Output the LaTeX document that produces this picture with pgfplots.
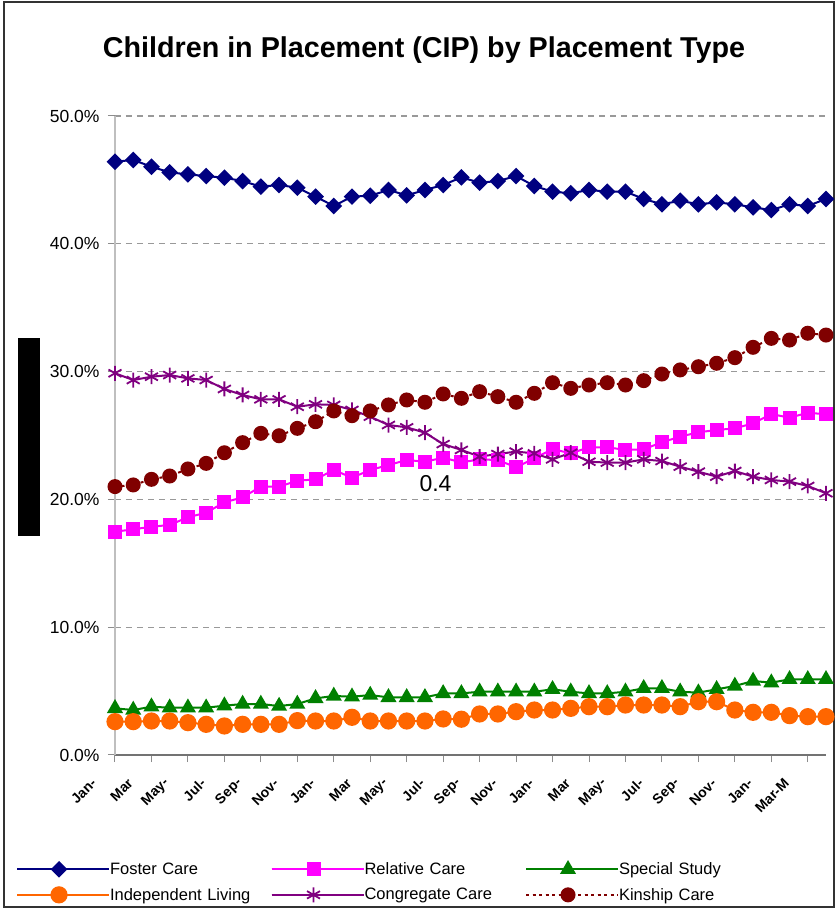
\documentclass[border=0pt]{standalone}
\usepackage{fontspec}
\setmainfont{Liberation Sans}
\usepackage{pgfplots}
\usepackage{pgfplotstable}
\pgfplotsset{compat=1.18}

\definecolor{cfoster}{HTML}{000080}
\definecolor{crelative}{HTML}{FF00FF}
\definecolor{cspecial}{HTML}{008000}
\definecolor{cindep}{HTML}{FF6600}
\definecolor{ccongr}{HTML}{800080}
\definecolor{ckin}{HTML}{800000}

% share of children in placement, % per month (40 months)
\pgfplotstableread{
i  foster relative special indep congr kin
0  46.42  17.47  3.65  2.61  29.87  21.00
1  46.56  17.66  3.52  2.61  29.34  21.13
2  46.03  17.86  3.78  2.66  29.60  21.57
3  45.59  18.00  3.70  2.66  29.73  21.83
4  45.43  18.60  3.70  2.53  29.47  22.38
5  45.30  18.96  3.70  2.40  29.34  22.82
6  45.17  19.77  3.86  2.27  28.64  23.65
7  44.91  20.16  3.99  2.40  28.17  24.44
8  44.47  21.00  3.99  2.40  27.83  25.17
9  44.60  21.00  3.83  2.40  27.83  24.98
10 44.39  21.46  3.99  2.69  27.25  25.56
11 43.69  21.57  4.43  2.66  27.44  26.08
12 42.96  22.30  4.62  2.66  27.39  26.92
13 43.69  21.70  4.56  2.95  27.00  26.55
14 43.76  22.30  4.69  2.66  26.47  26.92
15 44.21  22.69  4.51  2.66  25.82  27.39
16 43.79  23.08  4.51  2.66  25.64  27.78
17 44.21  22.95  4.51  2.66  25.22  27.60
18 44.60  23.26  4.82  2.82  24.33  28.25
19 45.20  22.90  4.82  2.80  23.87  27.91
20 44.78  23.13  4.95  3.21  23.35  28.43
21 44.91  23.08  4.95  3.21  23.55  28.04
22 45.30  22.51  4.95  3.39  23.74  27.60
23 44.52  23.21  4.95  3.52  23.60  28.30
24 44.08  23.94  5.14  3.52  23.13  29.13
25 43.95  23.60  4.95  3.65  23.65  28.69
26 44.21  24.08  4.82  3.78  22.95  28.95
27 44.08  24.08  4.82  3.78  22.88  29.13
28 44.08  23.87  4.95  3.91  22.88  28.95
29 43.51  23.92  5.22  3.91  23.13  29.29
30 43.09  24.47  5.22  3.91  23.00  29.81
31 43.37  24.91  4.95  3.78  22.56  30.13
32 43.09  25.25  4.88  4.17  22.17  30.38
33 43.24  25.43  5.14  4.17  21.78  30.65
34 43.09  25.56  5.40  3.52  22.22  31.09
35 42.85  25.95  5.79  3.34  21.78  31.90
36 42.64  26.68  5.66  3.34  21.52  32.60
37 43.09  26.39  5.92  3.08  21.39  32.47
38 42.96  26.78  5.92  3.00  21.05  33.00
39 43.51  26.66  5.92  3.00  20.48  32.86
}\cip

\begin{document}
\begin{tikzpicture}
\useasboundingbox (0,0) rectangle (838pt,910pt);
\draw[line width=1.5pt, black!80] (4pt,3pt) rectangle (834pt,908pt);

\node[anchor=base, font=\fontsize{28.7}{34}\selectfont\bfseries] at (424pt,852pt)
  {Children in Placement (CIP) by Placement Type};

% black bar on the left
\fill[black] (18pt,374pt) rectangle (40pt,572pt);

\begin{axis}[
  at={(115pt,155pt)}, anchor=south west,
  scale only axis, width=711pt, height=639pt,
  xmin=0, xmax=39, ymin=0, ymax=50,
  axis x line*=bottom, axis y line*=left,
  x axis line style={draw=black!55, line width=1.3pt},
  y axis line style={draw=black!25, line width=1.3pt},
  tick align=outside, major tick length=7pt,
  tick style={draw=black!45, line width=1pt},
  xtick={0,2,...,38},
  xticklabels={Jan-,Mar,May-,Jul-,Sep-,Nov-,Jan-,Mar,May-,Jul-,Sep-,Nov-,Jan-,Mar,May-,Jul-,Sep-,Nov-,Jan-,Mar-M},
  x tick label style={font=\fontsize{14}{16}\selectfont\bfseries, inner sep=0pt,
    xshift=-21pt, yshift=-19pt, rotate=45, anchor=east},
  ytick={0,10,20,30,40,50},
  yticklabels={0.0\%,10.0\%,20.0\%,30.0\%,40.0\%,50.0\%},
  y tick label style={font=\fontsize{17.5}{20}\selectfont, xshift=-5pt},
  ymajorgrids,
  major grid style={draw=black!40, line width=1.2pt, dash pattern=on 6pt off 5pt},
  legend columns=3,
  legend cell align=left,
  legend image code/.code={
    \draw[mark repeat=2,mark phase=2] plot coordinates {(0pt,0pt) (42pt,0pt) (84pt,0pt)};
    \path (0pt,0pt) -- (92pt,0pt);
  },
  legend style={at={(axis description cs:-0.1392,-0.1675)}, anchor=north west,
    draw=none, fill=none, inner sep=0pt, outer sep=0pt,
    column sep=0pt, row sep=11pt,
    font=\fontsize{16.5}{19}\selectfont,
    nodes={inner sep=0pt, text width=160.5pt, align=left}},
]
\addplot[cfoster, line width=2pt, mark=square*, mark size=4.9pt, mark options={rotate=45, solid}]
  table[x=i, y=foster] {\cip};
\addlegendentry{Foster Care}
\addplot[crelative, line width=2pt, mark=square*, mark size=6pt, mark options={solid}]
  table[x=i, y=relative] {\cip};
\addlegendentry{Relative Care}
\addplot[cspecial, line width=2pt, mark=triangle*, mark size=7.3pt, mark options={solid}]
  table[x=i, y=special] {\cip};
\addlegendentry{Special Study}
\addplot[cindep, line width=2pt, mark=*, mark size=7.6pt, mark options={solid}]
  table[x=i, y=indep] {\cip};
\addlegendentry{Independent Living}
\addplot[ccongr, line width=2pt, mark=asterisk, mark size=7.5pt, mark options={solid, line width=1.8pt}]
  table[x=i, y=congr] {\cip};
\addlegendentry{Congregate Care}
\addplot[ckin, line width=2pt, dash pattern=on 3pt off 3.5pt, mark=*, mark size=6.5pt, mark options={solid}]
  table[x=i, y=kin] {\cip};
\addlegendentry{Kinship Care}
\end{axis}

\node[anchor=base, font=\fontsize{23}{27}\selectfont] at (435.5pt,418.3pt) {0.4};
\end{tikzpicture}
\end{document}
